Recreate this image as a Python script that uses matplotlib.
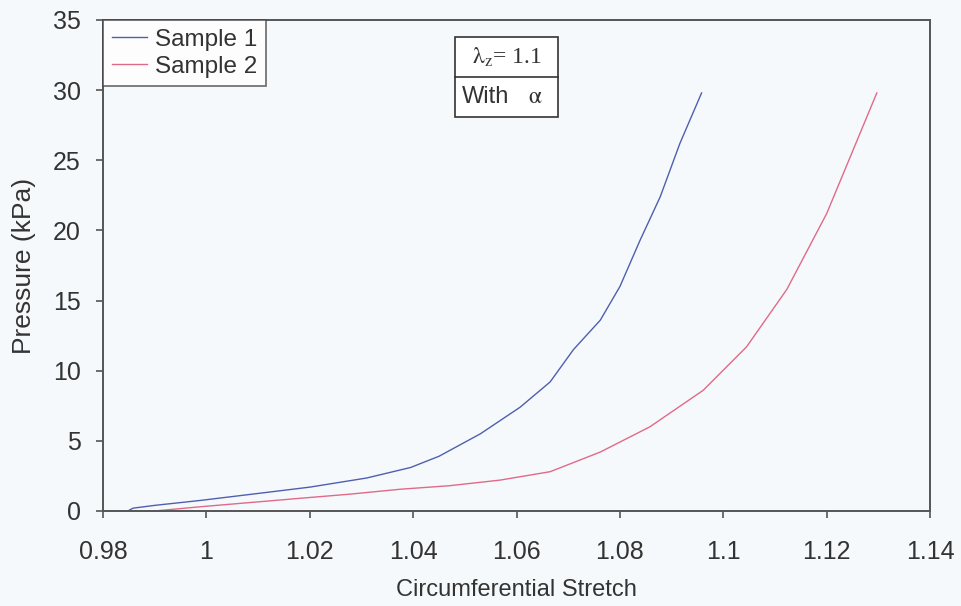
import matplotlib.pyplot as plt
from matplotlib.patches import Rectangle

plt.rcParams['font.family'] = ['Liberation Sans', 'DejaVu Sans']

# Sample 1
stretch_1 = [0.9848, 0.9858, 0.9900, 0.9988, 1.0100, 1.0200, 1.0310, 1.0395, 1.0450,
             1.0530, 1.0607, 1.0665, 1.0710, 1.0762, 1.0800, 1.0839, 1.0878, 1.0916, 1.0958]
pressure_1 = [0.0, 0.2, 0.4, 0.75, 1.25, 1.7, 2.35, 3.1, 3.9,
              5.5, 7.4, 9.2, 11.5, 13.6, 16.0, 19.3, 22.4, 26.2, 29.8]

# Sample 2
stretch_2 = [0.9900, 0.9988, 1.0084, 1.0180, 1.0278, 1.0375, 1.0470, 1.0568, 1.0665,
             1.0762, 1.0858, 1.0961, 1.1045, 1.1123, 1.1200, 1.1297]
pressure_2 = [0.0, 0.3, 0.6, 0.9, 1.2, 1.55, 1.8, 2.2, 2.8,
              4.2, 6.0, 8.6, 11.7, 15.8, 21.2, 29.8]

bg = '#f6f9fb'
fig = plt.figure(figsize=(9.61, 6.06), dpi=100)
fig.patch.set_facecolor(bg)
ax = fig.add_axes([0.1072, 0.1568, 0.8606, 0.8102])
ax.set_facecolor(bg)

ax.plot(stretch_1, pressure_1, color='#4f5fb0', lw=1.0, label='Sample 1')
ax.plot(stretch_2, pressure_2, color='#e06a88', lw=1.0, label='Sample 2')

ax.set_xlim(0.98, 1.14)
ax.set_ylim(0, 35)
ax.set_xticks([0.98, 1.0, 1.02, 1.04, 1.06, 1.08, 1.1, 1.12, 1.14])
ax.set_xticklabels(['0.98', '1', '1.02', '1.04', '1.06', '1.08', '1.1', '1.12', '1.14'])
ax.set_yticks(range(0, 36, 5))
ax.tick_params(labelsize=18, colors='#555555', labelcolor='#333333', length=5, width=1.2)
ax.tick_params(axis='x', pad=16)
ax.tick_params(axis='y', pad=11)
for s in ax.spines.values():
    s.set_color('#555555')
    s.set_linewidth(1.4)

ax.set_xlabel('Circumferential Stretch', fontsize=17, color='#333333', labelpad=11)
ax.set_ylabel('Pressure (kPa)', fontsize=19, color='#333333', labelpad=12)

leg = ax.legend(loc='upper left', bbox_to_anchor=(0.0, 1.0), fontsize=17.5,
                frameon=True, fancybox=False, borderaxespad=0, handlelength=1.45,
                handletextpad=0.33, labelspacing=0.22, borderpad=0.35)
leg.get_frame().set_edgecolor('#444444')
leg.get_frame().set_linewidth(1.2)
leg.get_frame().set_facecolor('white')
for t in leg.get_texts():
    t.set_color('#333333')

# parameter box
bx0, bx1, by0, by1, bmid = 0.4256, 0.5502, 0.8024, 0.9654, 0.8839
ax.add_patch(Rectangle((bx0, by0), bx1 - bx0, by1 - by0, transform=ax.transAxes,
                       facecolor='white', edgecolor='#333333', lw=1.2, zorder=5))
ax.plot([bx0, bx1], [bmid, bmid], transform=ax.transAxes, color='#333333', lw=1.2, zorder=6)
ax.text((bx0 + bx1) / 2, (bmid + by1) / 2, r'$\mathrm{\lambda}_{\mathrm{z}}$= 1.1',
        transform=ax.transAxes, ha='center', va='center', fontsize=17,
        family='Liberation Serif', zorder=7, math_fontfamily='stix', color='#333333')
ax.text(bx0 + 0.008, (by0 + bmid) / 2, 'With', transform=ax.transAxes,
        ha='left', va='center', fontsize=17, zorder=7, color='#333333')
ax.text(bx0 + 0.088, (by0 + bmid) / 2, r'$\mathrm{\alpha}$', transform=ax.transAxes,
        ha='left', va='center', fontsize=17, zorder=7, math_fontfamily='stix',
        color='#333333')

fig.savefig('out.png', dpi=100, facecolor=bg)
